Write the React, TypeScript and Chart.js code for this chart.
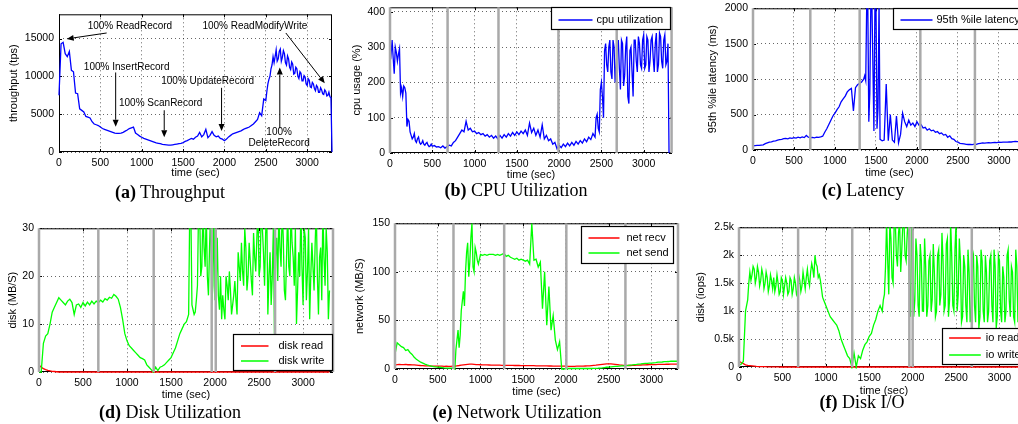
import React, { useEffect, useRef } from 'react';
import { Chart, registerables } from 'chart.js';

Chart.register(...registerables);

// ---------------- data ----------------
const TIME_SEC = [
  0, 25, 50, 75, 100, 125, 150, 175, 200, 225, 250, 275, 300, 325, 350, 375, 400, 425, 450, 475,
  500, 525, 550, 575, 600, 625, 650, 675, 700, 725, 750, 775, 800, 825, 850, 875, 900, 925, 950, 975,
  1000, 1025, 1050, 1075, 1100, 1125, 1150, 1175, 1200, 1225, 1250, 1275, 1300, 1325, 1350, 1375, 1400, 1425, 1450, 1475,
  1500, 1525, 1550, 1575, 1600, 1625, 1650, 1675, 1700, 1725, 1750, 1775, 1800, 1825, 1850, 1875, 1900, 1925, 1950, 1975,
  2000, 2025, 2050, 2075, 2100, 2125, 2150, 2175, 2200, 2225, 2250, 2275, 2300, 2325, 2350, 2375, 2400, 2425, 2450, 2475,
  2500, 2525, 2550, 2575, 2600, 2625, 2650, 2675, 2700, 2725, 2750, 2775, 2800, 2825, 2850, 2875, 2900, 2925, 2950, 2975,
  3000, 3025, 3050, 3075, 3100, 3125, 3150, 3175, 3200, 3225, 3250, 3275, 3300,
];

const X_TICKS = [0, 500, 1000, 1500, 2000, 2500, 3000];

const throughputTps = [
  7500, 14300, 14500, 13000, 12600, 13300, 10800, 10600, 7800, 7700, 5700, 5500, 5300, 4700, 4600, 4500, 4000, 3700, 3600, 3500,
  3300, 3100, 3000, 2900, 2800, 2700, 2600, 2500, 2450, 2450, 2500, 2600, 2750, 2900, 3100, 3200, 3300, 2500, 2300, 2100,
  1950, 1800, 1700, 1600, 1500, 1400, 1300, 1200, 1150, 1100, 1000, 980, 950, 920, 900, 950, 1000, 1050, 1100, 1150,
  1250, 1400, 1500, 1650, 1800, 1700, 1950, 2100, 2600, 2000, 2300, 3000, 1900, 2200, 2700, 2200, 2000, 2100, 1800, 1700,
  1500, 1700, 2000, 2200, 2400, 2500, 2600, 2700, 2800, 2950, 3100, 3200, 3300, 3500, 3700, 4000, 4300, 5200, 4800, 7000,
  6800, 9000, 10000, 11500, 11800, 13500, 12300, 13600, 12500, 13000, 11500, 12300, 10900, 11600, 10400, 11000, 9700, 10400, 9400, 9900,
  8800, 9500, 8500, 9000, 8100, 8600, 7900, 8200, 7600, 8000, 7500, 7300, 0,
];
// extra half-step samples (between TIME_SEC[i] and TIME_SEC[i+1]) from index 100
const throughputMidTps = [
  8000, 9600, 11000, 12600, 12600, 12000, 13300, 12000, 13400, 11800, 12700, 11200, 11900, 10300, 11200, 10000,
  10600, 9400, 10100, 9000, 9700, 8600, 9200, 8400, 8800, 7900, 8500, 7700, 8200, 7400, 7900, 7200,
];

const cpuUsagePct = [
  300, 320, 225, 285, 280, 170, 160, 185, 75, 90, 50, 45, 35, 40, 30, 28, 25, 27, 22, 20,
  19, 21, 17, 18, 15, 20, 14, 18, 22, 20, 30, 35, 45, 55, 65, 60, 90, 65, 70, 60,
  62, 55, 58, 52, 55, 48, 52, 45, 50, 42, 48, 40, 50, 42, 52, 45, 55, 48, 58, 50,
  60, 52, 62, 55, 65, 50, 85, 58, 70, 50, 65, 45, 80, 40, 50, 35, 40, 25, 30, 12,
  22, 15, 25, 18, 28, 20, 30, 22, 33, 25, 35, 28, 40, 32, 45, 38, 55, 45, 110, 60,
  200, 100, 310, 230, 320, 210, 300, 250, 320, 180, 310, 220, 330, 140, 300, 160, 320, 230, 310, 240,
  335, 250, 320, 260, 330, 230, 340, 250, 330, 240, 335, 260, 0,
];
// half-step samples from index 0
const cpuEarlyMidPct = [280, 270, 300, 260, 295, 185, 190, 170, 95, 60, 40, 55, 30, 45, 25, 35, 22, 30, 18, 25];
// half-step samples from index 96
const cpuUsageMidPct = [
  50, 100, 70, 180, 160, 290, 250, 300, 230, 320, 200, 300, 240, 320, 190, 300, 160, 290,
  230, 320, 260, 330, 250, 320, 240, 330, 230, 320, 270, 310, 230, 340, 260, 320, 250, 310,
];

const latencyMs = [
  60, 62, 65, 65, 70, 72, 90, 100, 110, 115, 125, 130, 140, 145, 150, 160, 165, 158, 170, 165,
  175, 168, 180, 172, 185, 175, 205, 180, 175, 178, 172, 180, 178, 185, 195, 250, 300, 360, 420, 480,
  520, 570, 610, 680, 720, 760, 820, 850, 870, 550, 880, 920, 940, 960, 1000, 980, 2100, 800, 2100, 270,
  2100, 600, 150, 130, 140, 930, 130, 500, 140, 110, 480, 100, 220, 520, 400, 330, 420, 350, 380, 330,
  400, 350, 360, 310, 320, 280, 300, 270, 280, 250, 260, 230, 240, 210, 220, 180, 200, 160, 150, 120,
  110, 95, 90, 85, 80, 78, 80, 75, 82, 80, 90, 95, 100, 98, 100, 102, 100, 105, 108, 105,
  110, 108, 112, 110, 112, 115, 113, 118, 120, 118, 120, 122, 120,
];
// half-step samples from index 54
const latencyMidMs = [1050, 2100, 400, 2100, 1200, 2100, 300, 2100, 140];

const diskReadMBs = [
  1.5, 1, 0.7, 0.5, 0.35, 0.25, 0.15, 0.1, 0.05, 0, 0, 0, 0, 0, 0, 0, 0, 0, 0, 0,
  0, 0, 0, 0, 0, 0, 0, 0, 0, 0, 0, 0, 0, 0, 0, 0, 0, 0, 0, 0,
  0, 0, 0, 0, 0, 0, 0, 0, 0, 0, 0, 0, 0, 0, 0, 0, 0, 0, 0, 0,
  0, 0, 0, 0, 0, 0, 0, 0, 0, 0, 0, 0, 0, 0, 0, 0, 0, 0, 0, 0,
  0, 0, 0, 0, 0, 0, 0, 0, 0, 0, 0, 0, 0, 0, 0, 0, 0, 0, 0, 0,
  0, 0, 0, 0, 0, 0, 0, 0, 0, 0, 0, 0, 0, 0, 0, 0, 0, 0, 0, 0,
  0, 0, 0, 0, 0, 0, 0, 0, 0, 0, 0, 0, 0,
];

const diskWriteMBs = [
  0, 0, 6, 7.5, 8, 10, 12.5, 13.5, 14.5, 15.5, 15, 14.5, 14, 14.8, 15.2, 14.5, 12, 14, 14.2, 13.5,
  14.5, 13.8, 14.6, 14, 14.8, 14.2, 14.8, 14.5, 15, 14.6, 15.3, 15, 15.6, 15.4, 16.2, 15.8, 15.2, 13.5, 11, 8,
  6.5, 5.5, 5, 4.5, 4, 3.5, 3, 2.8, 2.5, 1.5, 1, 0.5, 0, 1, 0.3, 1, 1.2, 1.5, 2, 2.5,
  3, 4, 5, 6.5, 8, 9, 10, 10.5, 12, 34, 13, 12.5, 18, 34, 22, 26, 34, 16, 34, 18,
  15, 28, 13, 11, 13, 20, 15, 17, 14, 19, 12, 22, 27, 18, 26, 20, 23, 16, 24, 28,
  20, 34, 25, 29, 12, 25, 20, 8, 28, 34, 22, 28, 15, 34, 20, 27, 18, 10, 25, 34,
  14, 28, 21, 11, 27, 17, 34, 12, 26, 34, 18, 25, 17,
];
// half-step samples from index 68
const diskWriteMidMBs = [
  34, 14, 12, 15, 34, 20, 34, 22, 20, 26, 14, 34,
  18, 16, 20, 16, 11, 18, 21, 12, 16, 15, 25, 19, 21, 30, 17, 27, 19, 29, 21, 34,
  22, 30, 18, 34, 20, 14, 30, 24, 19, 26, 34, 17, 24, 22, 34, 24, 30, 17, 20, 22,
  30, 15, 30, 20, 22, 27, 20, 24, 15, 24, 30, 11,
];

const netRecvMBs = [
  4, 4.5, 4.8, 4.6, 4.5, 4.7, 4.4, 4.5, 4.3, 4.2, 4, 3.8, 3.6, 3.5, 3.3, 3.2, 3.2, 3, 3, 3,
  3, 2.9, 3, 2.8, 2.9, 2.8, 2.8, 2.9, 3, 3.3, 3.6, 4, 4.3, 4.6, 4.8, 5, 5, 4.8, 4.6, 4.5,
  4.4, 4.3, 4.2, 4.2, 4.1, 4, 4, 4, 3.9, 3.9, 3.8, 3.8, 3.8, 3.7, 3.7, 3.7, 3.6, 3.6, 3.6, 3.5,
  3.5, 3.5, 3.5, 3.4, 3.4, 3.4, 3.3, 3.3, 3.3, 3.2, 3.2, 3.2, 3.1, 3.1, 3, 3, 3, 3, 2.9, 2.9,
  2.9, 2.8, 2.8, 2.8, 2.8, 2.9, 2.9, 3, 3, 3.1, 3.2, 3.3, 3.5, 3.7, 3.9, 4.2, 4.5, 4.8, 5, 5.2,
  5.3, 5.2, 5, 4.8, 4.5, 4.2, 4, 3.8, 3.7, 3.6, 3.6, 3.7, 3.8, 3.9, 4, 4.1, 4.2, 4.3, 4.4, 4.5,
  4.5, 4.6, 4.6, 4.7, 4.7, 4.8, 4.8, 4.9, 4.9, 5, 5, 5, 5,
];

const netSendMBs = [
  15, 27, 25, 23, 22, 19, 20, 17, 15, 12, 10, 8.5, 7, 6, 5, 4.2, 3.5, 3, 2.5, 2.2,
  2, 1.8, 1.5, 1.2, 1, 1, 1, 0.8, 0, 30, 22, 60, 80, 100, 130, 110, 150, 100, 120, 108,
  118, 117, 118, 117, 118, 118, 118, 117, 118, 117, 118, 119, 116, 117, 115, 114, 113, 114, 112, 113,
  112, 111, 112, 108, 150, 112, 113, 105, 110, 62, 100, 45, 85, 40, 55, 30, 20, 28, 0, 0,
  0.5, 0.5, 0.5, 0.5, 0.5, 0.5, 0.5, 0.5, 0.5, 0.5, 0.5, 0.5, 0.5, 0.6, 0.7, 0.8, 1, 1.2, 1.5, 1.8,
  2, 2.2, 2.4, 2.6, 2.8, 3, 3.2, 3.3, 3.5, 3.7, 4, 4.2, 4.5, 4.7, 5, 5.2, 5.5, 5.7, 5.8, 6,
  6, 6.3, 6.6, 7, 7, 7.2, 7.5, 7.5, 7.7, 8, 8, 8.2, 8,
];
// half-step samples from index 28
const netSendMidMBs = [20, 40, 35, 70, 65, 120, 95, 135, 105, 125, 112];

const ioReadIops = [
  100, 80, 60, 40, 30, 25, 20, 15, 10, 8, 6, 5, 5, 4, 3, 2, 2, 1, 1, 0,
  0, 0, 0, 0, 0, 0, 0, 0, 0, 0, 0, 0, 0, 0, 0, 0, 0, 0, 0, 0,
  0, 0, 0, 0, 0, 0, 0, 0, 0, 0, 0, 0, 0, 0, 0, 0, 0, 0, 0, 0,
  0, 0, 0, 0, 0, 0, 0, 0, 0, 0, 0, 0, 0, 0, 0, 0, 0, 0, 0, 0,
  0, 0, 0, 0, 0, 0, 0, 0, 0, 0, 0, 0, 0, 0, 0, 0, 0, 0, 0, 0,
  0, 0, 0, 0, 0, 0, 0, 0, 0, 0, 0, 0, 0, 0, 0, 0, 0, 0, 0, 0,
  0, 0, 0, 0, 0, 0, 0, 0, 0, 0, 0, 0, 0,
];

const ioWriteIops = [
  40, 50, 100, 1000, 1200, 1700, 1650, 1750, 1600, 1700, 1550, 1650, 1500, 1600, 1450, 1550, 1600, 1450, 1500, 1350,
  1550, 1450, 1500, 1350, 1550, 1400, 1500, 1350, 1550, 1450, 1550, 1600, 1550, 1700, 1750, 2000, 1800, 1650, 1400, 1200,
  1100, 1000, 900, 850, 800, 750, 650, 500, 400, 300, 200, 150, 0, 250, 0, 200, 150, 300, 400, 450,
  550, 600, 750, 850, 1000, 1100, 1000, 1300, 2600, 1300, 2300, 1500, 2600, 1800, 2600, 2100, 2600, 1900, 2600, 900,
  2200, 1200, 2000, 900, 1900, 1000, 1800, 1100, 2000, 1200, 1700, 1000, 2100, 1300, 1900, 1100, 2300, 1200, 2000, 1000,
  2600, 1300, 1900, 900, 1800, 800, 1700, 1000, 2000, 800, 1800, 900, 1900, 800, 1700, 1000, 2000, 800, 1800, 900,
  1900, 800, 1600, 1000, 2100, 900, 1700, 800, 1800, 1100, 1900, 900, 1600,
];
// half-step samples from index 4
const ioWriteEarlyMidIops = [
  1500, 1550, 1800, 1500, 1800, 1450, 1750, 1400, 1700, 1350, 1650, 1400, 1350, 1650, 1300, 1600,
  1300, 1600, 1300, 1600, 1300, 1600, 1300, 1650, 1350, 1700, 1400, 1750, 1450, 1850, 1600, 1850,
  1600, 1550, 1250, 1150,
];
// half-step samples from index 66
const ioWriteMidIops = [
  1200, 1800, 1900, 2600, 1600, 2600, 2000, 2400, 1700, 2600, 2000, 2400, 1500, 2500,
  900, 2300, 1100, 2200, 1000, 2300, 900, 1900, 1000, 2200, 900, 2000, 1100, 2400, 1000, 2200,
  900, 2600, 1100, 2100, 1000, 2300, 800, 2000, 1100, 2100, 800, 1900, 1100, 2000, 700, 2100,
  1000, 2000, 800, 1900, 1100, 2100, 700, 2000, 1000, 1800, 800, 2000, 1200, 1800, 900, 2100,
  800, 1700, 1000, 1800,
];

const Y_TICKS_THROUGHPUT = [0, 5000, 10000, 15000];
const Y_TICKS_CPU = [0, 100, 200, 300, 400];
const Y_TICKS_LATENCY = [0, 500, 1000, 1500, 2000];
const Y_TICKS_DISK = [0, 10, 20, 30];
const Y_TICKS_NET = [0, 50, 100, 150];
const Y_TICKS_IOPS = [0, 500, 1000, 1500, 2000, 2500];

// phase boundaries (grey vertical markers), seconds
const PHASES_CPU = [0, 681, 1283, 1992, 2681, 3330];
const PHASES_LATENCY = [0, 699, 1301, 2041, 2707];
const PHASES_DISK = [0, 674, 1303, 1962, 2008, 2682, 3340];
const PHASES_NET = [0, 684, 1277, 2004, 2695, 3310];
const PHASES_IO = [0, 681, 1304, 1962, 2000, 2681, 3340];

// throughput annotations: text centre, arrow tail, arrow tip (data coords)
const THROUGHPUT_NOTES = [
  { lines: ['100% ReadRecord'], at: [857, 16600], from: [576, 15730], to: [93, 14950] },
  { lines: ['100% InsertRecord'], at: [818, 11260], from: [685, 10510], to: [685, 3340] },
  { lines: ['100% ScanRecord'], at: [1229, 6390], from: [1272, 5520], to: [1272, 1960] },
  { lines: ['100% UpdateRecord'], at: [1797, 9300], from: [1965, 8480], to: [1965, 2780] },
  { lines: ['100% ReadModifyWrite'], at: [2367, 16600], from: [2742, 15730], to: [3213, 9080] },
  { lines: ['100%', 'DeleteRecord'], at: [2661, 1890], from: [2669, 3130], to: [2669, 11170] },
];

// ---------------- styling ----------------
const BLUE = '#0000ff';
const GREEN = '#00ff00';
const RED = '#ff0000';
const PHASE_COLOR = '#a9a9a9';
const GRID_COLOR = 'rgba(0,0,0,0.6)';
const SANS = '"Liberation Sans", Arial, Helvetica, sans-serif';
const SERIF = '"Liberation Serif", "Times New Roman", Times, serif';

const PAD_L = 62;
const PAD_R = 8;
const PAD_T = 10;
const PAD_B = 34;

type Mid = { from: number; values: number[] };
type Series = { label: string; values: number[]; color: string; mids?: Mid[] };
type LegendSpec = {
  anchor: 'top' | 'bottom';
  dx: number; dy: number; w: number; h: number;
  rows: number[]; line: [number, number]; textX: number;
};
type PanelSpec = {
  key: string;
  plot: { left: number; top: number; right: number; bottom: number };
  xMax: number;
  yMax: number;
  yTicks: number[];
  yLabel: (v: number) => string;
  yTitle: string;
  yTitleDx: number;
  xTitleDy: number;
  series: Series[];
  phases: number[];
  legend?: LegendSpec;
  notes?: typeof THROUGHPUT_NOTES;
};

const plain = (v: number) => String(v);
const kilo = (v: number) => (v === 0 ? '0' : `${v / 1000}k`);

const PANELS: PanelSpec[] = [
  {
    key: 'a', plot: { left: 59, top: 13, right: 332, bottom: 152 }, xMax: 3300, yMax: 18200,
    yTicks: Y_TICKS_THROUGHPUT, yLabel: plain, yTitle: 'throughput (tps)', yTitleDx: 45, xTitleDy: 21,
    series: [{ label: 'throughput', values: throughputTps, color: BLUE, mids: [{ from: 100, values: throughputMidTps }] }],
    phases: [], notes: THROUGHPUT_NOTES,
  },
  {
    key: 'b', plot: { left: 390, top: 6, right: 672, bottom: 153 }, xMax: 3335, yMax: 413,
    yTicks: Y_TICKS_CPU, yLabel: plain, yTitle: 'cpu usage (%)', yTitleDx: 33, xTitleDy: 21.5,
    series: [{
      label: 'cpu utilization', values: cpuUsagePct, color: BLUE,
      mids: [{ from: 0, values: cpuEarlyMidPct }, { from: 96, values: cpuUsageMidPct }],
    }],
    phases: PHASES_CPU,
    legend: { anchor: 'top', dx: -121, dy: 0, w: 119, h: 22, rows: [12], line: [7, 41], textX: 45 },
  },
  {
    key: 'c', plot: { left: 753, top: 7, right: 1026, bottom: 150 }, xMax: 3330, yMax: 2000,
    yTicks: Y_TICKS_LATENCY, yLabel: plain, yTitle: '95th %ile latency (ms)', yTitleDx: 40, xTitleDy: 23.3,
    series: [{ label: '95th %ile latency', values: latencyMs, color: BLUE, mids: [{ from: 54, values: latencyMidMs }] }],
    phases: PHASES_LATENCY,
    legend: { anchor: 'top', dx: -133, dy: 0, w: 131, h: 21, rows: [11], line: [7, 39], textX: 43 },
  },
  {
    key: 'd', plot: { left: 39, top: 227, right: 333, bottom: 372 }, xMax: 3340, yMax: 30,
    yTicks: Y_TICKS_DISK, yLabel: plain, yTitle: 'disk (MB/S)', yTitleDx: 26, xTitleDy: 23.3,
    series: [
      { label: 'disk read', values: diskReadMBs, color: RED },
      { label: 'disk write', values: diskWriteMBs, color: GREEN, mids: [{ from: 68, values: diskWriteMidMBs }] },
    ],
    phases: PHASES_DISK,
    legend: { anchor: 'bottom', dx: -100, dy: -38, w: 99, h: 36, rows: [11, 26.5], line: [7.5, 35], textX: 45 },
  },
  {
    key: 'e', plot: { left: 395, top: 222, right: 678, bottom: 369 }, xMax: 3310, yMax: 150,
    yTicks: Y_TICKS_NET, yLabel: plain, yTitle: 'network (MB/S)', yTitleDx: 35, xTitleDy: 23.4,
    series: [
      { label: 'net recv', values: netRecvMBs, color: RED },
      { label: 'net send', values: netSendMBs, color: GREEN, mids: [{ from: 28, values: netSendMidMBs }] },
    ],
    phases: PHASES_NET,
    legend: { anchor: 'top', dx: -97, dy: 3, w: 92, h: 37, rows: [11, 26.7], line: [7, 38], textX: 45 },
  },
  {
    key: 'f', plot: { left: 739, top: 226, right: 1029, bottom: 367 }, xMax: 3340, yMax: 2500,
    yTicks: Y_TICKS_IOPS, yLabel: kilo, yTitle: 'disk (iops)', yTitleDx: 37.6, xTitleDy: 24.4,
    series: [
      { label: 'io read', values: ioReadIops, color: RED },
      {
        label: 'io write', values: ioWriteIops, color: GREEN,
        mids: [{ from: 4, values: ioWriteEarlyMidIops }, { from: 66, values: ioWriteMidIops }],
      },
    ],
    phases: PHASES_IO,
    legend: { anchor: 'bottom', dx: -87, dy: -39, w: 86, h: 36, rows: [9.7, 26], line: [6.6, 38.3], textX: 43.3 },
  },
];

const CAPTIONS = [
  { tag: '(a)', text: 'Throughput', cx: 170, cy: 191.5 },
  { tag: '(b)', text: 'CPU Utilization', cx: 516, cy: 190 },
  { tag: '(c)', text: 'Latency', cx: 863, cy: 190 },
  { tag: '(d)', text: 'Disk Utilization', cx: 170, cy: 411.5 },
  { tag: '(e)', text: 'Network Utilization', cx: 517, cy: 411.5 },
  { tag: '(f)', text: 'Disk I/O', cx: 862, cy: 402 },
];

// ---------------- drawing helpers ----------------
function seriesPoints(s: Series) {
  const pts = TIME_SEC.map((t, j) => ({ x: t, y: s.values[j] }));
  (s.mids || []).forEach((m) => {
    m.values.forEach((v, k) => {
      const j = m.from + k;
      pts.push({ x: (TIME_SEC[j] + TIME_SEC[j + 1]) / 2, y: v });
    });
  });
  pts.sort((p, q) => p.x - q.x);
  return pts;
}

function drawArrow(ctx: CanvasRenderingContext2D, x0: number, y0: number, x1: number, y1: number) {
  const ang = Math.atan2(y1 - y0, x1 - x0);
  const len = 7;
  const half = 3;
  const bx = x1 - len * Math.cos(ang);
  const by = y1 - len * Math.sin(ang);
  ctx.beginPath();
  ctx.moveTo(x0, y0);
  ctx.lineTo(bx, by);
  ctx.stroke();
  ctx.beginPath();
  ctx.moveTo(x1, y1);
  ctx.lineTo(bx + half * Math.sin(ang), by - half * Math.cos(ang));
  ctx.lineTo(bx - half * Math.sin(ang), by + half * Math.cos(ang));
  ctx.closePath();
  ctx.fill();
}

function decor(spec: PanelSpec) {
  return {
    id: 'decor_' + spec.key,
    beforeDatasetsDraw(chart: any) {
      const { ctx, chartArea: a, scales } = chart;
      ctx.save();
      ctx.strokeStyle = '#000';
      ctx.lineWidth = 1;
      ctx.strokeRect(a.left + 0.5, a.top + 0.5, a.right - a.left - 1, a.bottom - a.top - 1);
      ctx.beginPath();
      X_TICKS.forEach((v) => {
        const px = Math.round(scales.x.getPixelForValue(v)) + 0.5;
        ctx.moveTo(px, a.bottom); ctx.lineTo(px, a.bottom - 3);
        ctx.moveTo(px, a.top); ctx.lineTo(px, a.top + 3);
      });
      spec.yTicks.forEach((v) => {
        const py = Math.round(scales.y.getPixelForValue(v)) + 0.5;
        ctx.moveTo(a.left, py); ctx.lineTo(a.left + 3, py);
        ctx.moveTo(a.right, py); ctx.lineTo(a.right - 3, py);
      });
      ctx.stroke();
      ctx.restore();
    },
    afterDatasetsDraw(chart: any) {
      const { ctx, chartArea: a, scales } = chart;
      ctx.save();
      if (spec.notes) {
        ctx.fillStyle = '#000';
        ctx.strokeStyle = '#000';
        ctx.lineWidth = 1;
        ctx.font = `10px ${SANS}`;
        ctx.textAlign = 'center';
        ctx.textBaseline = 'middle';
        spec.notes.forEach((n) => {
          const cx = scales.x.getPixelForValue(n.at[0]);
          const cy = scales.y.getPixelForValue(n.at[1]);
          const lh = 11;
          n.lines.forEach((ln, i) => {
            ctx.fillText(ln, cx, cy + (i - (n.lines.length - 1) / 2) * lh);
          });
          drawArrow(
            ctx,
            scales.x.getPixelForValue(n.from[0]), scales.y.getPixelForValue(n.from[1]),
            scales.x.getPixelForValue(n.to[0]), scales.y.getPixelForValue(n.to[1]),
          );
        });
      }
      const lg = spec.legend;
      if (lg) {
        const bx = Math.round(a.right + lg.dx) + 0.5;
        const by = Math.round((lg.anchor === 'top' ? a.top : a.bottom) + lg.dy) + 0.5;
        ctx.fillStyle = '#fff';
        ctx.fillRect(bx, by, lg.w, lg.h);
        ctx.strokeStyle = '#000';
        ctx.lineWidth = 1.2;
        ctx.strokeRect(bx, by, lg.w, lg.h);
        ctx.font = `11px ${SANS}`;
        ctx.textAlign = 'left';
        ctx.textBaseline = 'middle';
        spec.series.forEach((s, i) => {
          const ry = Math.round(by + lg.rows[i]);
          ctx.strokeStyle = s.color;
          ctx.lineWidth = 1.5;
          ctx.beginPath();
          ctx.moveTo(bx + lg.line[0], ry);
          ctx.lineTo(bx + lg.line[1], ry);
          ctx.stroke();
          ctx.fillStyle = '#000';
          ctx.fillText(s.label, bx + lg.textX, ry);
        });
      }
      ctx.restore();
    },
    afterDraw(chart: any) {
      const { ctx, chartArea: a } = chart;
      ctx.save();
      ctx.fillStyle = '#000';
      ctx.font = `11px ${SANS}`;
      ctx.textAlign = 'center';
      ctx.textBaseline = 'middle';
      ctx.fillText('time (sec)', (a.left + a.right) / 2, a.bottom + spec.xTitleDy);
      ctx.translate(a.left - spec.yTitleDx, (a.top + a.bottom) / 2);
      ctx.rotate(-Math.PI / 2);
      ctx.fillText(spec.yTitle, 0, 0);
      ctx.restore();
    },
  };
}

function buildConfig(spec: PanelSpec): any {
  const datasets: any[] = [];
  spec.phases.forEach((t) => {
    datasets.push({
      data: [{ x: t, y: 0 }, { x: t, y: spec.yMax }],
      borderColor: PHASE_COLOR,
      borderWidth: 2.5,
      pointRadius: 0,
      order: 0,
      clip: 3,
    });
  });
  spec.series.forEach((s, i) => {
    datasets.push({
      label: s.label,
      data: seriesPoints(s),
      borderColor: s.color,
      borderWidth: 1.3,
      pointRadius: 0,
      tension: 0,
      order: spec.series.length - i,
      clip: { left: 2, top: 0, right: 2, bottom: 2 },
    });
  });
  const tickFont = { family: SANS, size: 10.5 };
  return {
    type: 'line',
    data: { datasets },
    options: {
      responsive: false,
      maintainAspectRatio: false,
      animation: false,
      devicePixelRatio: 1,
      events: [],
      layout: { padding: { left: 0, right: PAD_R, top: PAD_T, bottom: 0 } },
      plugins: { legend: { display: false }, tooltip: { enabled: false }, title: { display: false } },
      scales: {
        x: {
          type: 'linear',
          min: 0,
          max: spec.xMax,
          afterBuildTicks: (s: any) => { s.ticks = X_TICKS.map((v) => ({ value: v })); },
          afterFit: (s: any) => { s.height = PAD_B; },
          ticks: { font: tickFont, color: '#000', padding: 5, maxRotation: 0, autoSkip: false, callback: (v: number) => String(v) },
          grid: { color: GRID_COLOR, lineWidth: 1, drawTicks: false },
          border: { display: false, dash: [1, 3] },
        },
        y: {
          type: 'linear',
          min: 0,
          max: spec.yMax,
          afterBuildTicks: (s: any) => { s.ticks = spec.yTicks.map((v) => ({ value: v })); },
          afterFit: (s: any) => { s.width = PAD_L; },
          ticks: { font: tickFont, color: '#000', padding: 5, autoSkip: false, callback: (v: number) => spec.yLabel(v) },
          grid: { color: GRID_COLOR, lineWidth: 1, drawTicks: false },
          border: { display: false, dash: [1, 3] },
        },
      },
    },
    plugins: [decor(spec)],
  };
}

function Panel({ spec }: { spec: PanelSpec }) {
  const ref = useRef<HTMLCanvasElement>(null);
  const w = spec.plot.right - spec.plot.left + PAD_L + PAD_R;
  const h = spec.plot.bottom - spec.plot.top + PAD_T + PAD_B;
  useEffect(() => {
    const chart = new Chart(ref.current as HTMLCanvasElement, buildConfig(spec));
    return () => chart.destroy();
  }, [spec]);
  return (
    <canvas
      ref={ref}
      width={w}
      height={h}
      style={{ position: 'absolute', left: spec.plot.left - PAD_L, top: spec.plot.top - PAD_T, width: w, height: h }}
    />
  );
}

export default function App() {
  return (
    <div
      style={{
        position: 'fixed', left: 0, top: 0, width: 1018, height: 424,
        overflow: 'hidden', background: '#fff',
      }}
    >
      {PANELS.map((p) => (
        <Panel key={p.key} spec={p} />
      ))}
      {CAPTIONS.map((c) => (
        <div
          key={c.tag}
          style={{
            position: 'absolute', left: c.cx - 150, width: 300, top: c.cy - 10, height: 20,
            textAlign: 'center', fontFamily: SERIF, fontSize: 18, lineHeight: '20px', color: '#000',
            whiteSpace: 'nowrap',
          }}
        >
          <b>{c.tag}</b> {c.text}
        </div>
      ))}
    </div>
  );
}
